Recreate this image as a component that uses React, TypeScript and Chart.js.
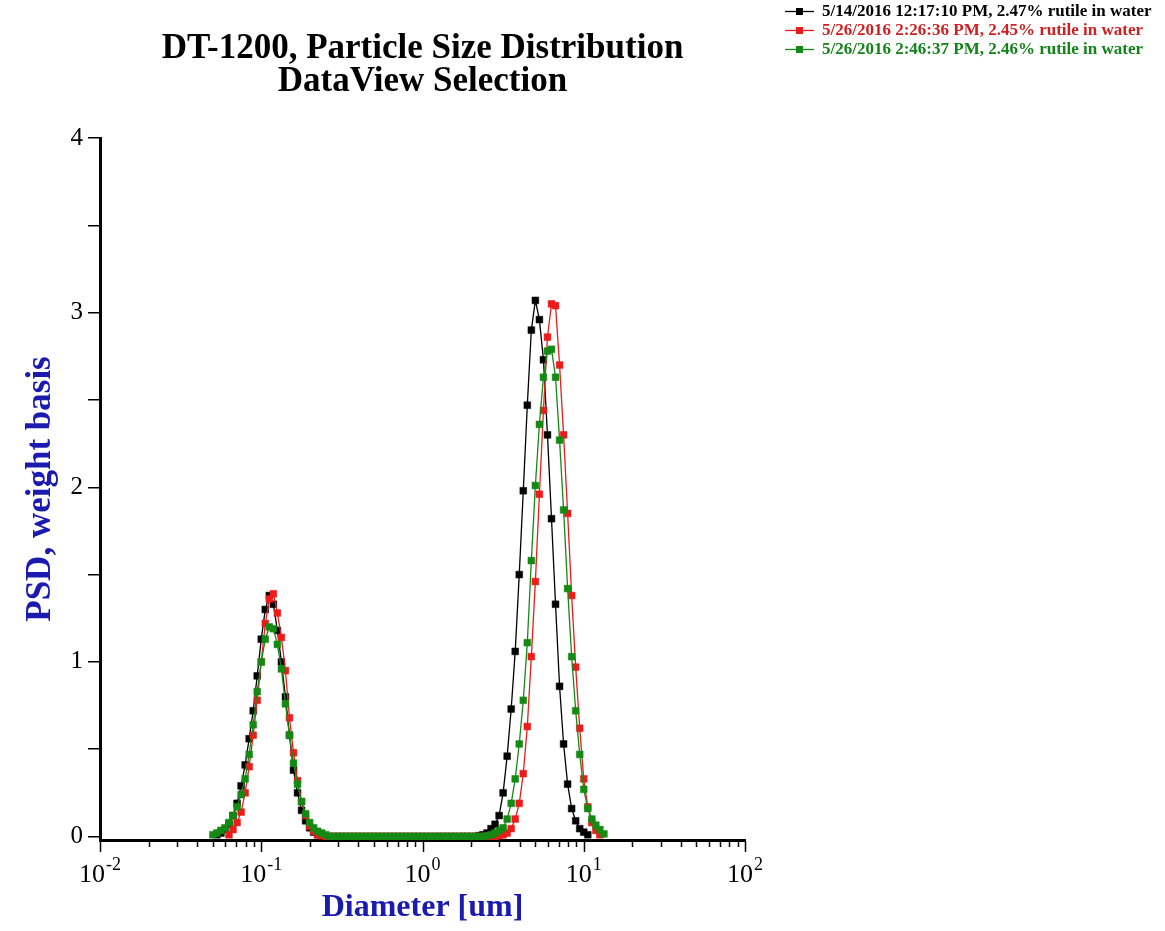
import React, { useEffect, useRef } from 'react';
import { Chart, registerables } from 'chart.js';

Chart.register(...registerables);

// Diameters (um) of the measurement grid
const diameters = [
  0.050119, 0.053088, 0.056234, 0.059566, 0.063096, 0.066834, 0.070795, 0.074989, 0.079433, 0.08414,
  0.089125, 0.094406, 0.1, 0.10593, 0.1122, 0.11885, 0.12589, 0.13335, 0.14125, 0.14962,
  0.15849, 0.16788, 0.17783, 0.18836, 0.19953, 0.21135, 0.22387, 0.23714, 0.25119, 0.26607,
  0.28184, 0.29854, 0.31623, 0.33497, 0.35481, 0.37584, 0.39811, 0.4217, 0.44668, 0.47315,
  0.50119, 0.53088, 0.56234, 0.59566, 0.63096, 0.66834, 0.70795, 0.74989, 0.79433, 0.8414,
  0.89125, 0.94406, 1.0, 1.0593, 1.122, 1.1885, 1.2589, 1.3335, 1.4125, 1.4962,
  1.5849, 1.6788, 1.7783, 1.8836, 1.9953, 2.1135, 2.2387, 2.3714, 2.5119, 2.6607,
  2.8184, 2.9854, 3.1623, 3.3497, 3.5481, 3.7584, 3.9811, 4.217, 4.4668, 4.7315,
  5.0119, 5.3088, 5.6234, 5.9566, 6.3096, 6.6834, 7.0795, 7.4989, 7.9433, 8.414,
  8.9125, 9.4406, 10.0, 10.593, 11.22, 11.885, 12.589, 13.335, 14.125,
];

// 99 values each, aligned with diameters (null = not measured/drawn)
const psdBlack = [
  null, 0.01, 0.02, 0.04, 0.07, 0.12, 0.19, 0.29, 0.41, 0.56,
  0.72, 0.92, 1.13, 1.3, 1.38, 1.33, 1.18, 1.0, 0.8, 0.58,
  0.38, 0.25, 0.15, 0.09, 0.05, 0.025, 0.01, 0.005,
  0, 0, 0, 0, 0, 0, 0, 0, 0, 0,
  0, 0, 0, 0, 0, 0, 0, 0, 0, 0,
  0, 0, 0, 0, 0, 0, 0, 0, 0, 0,
  0, 0, 0, 0, 0, 0, 0, 0,
  0.005, 0.01, 0.02, 0.045, 0.07, 0.12, 0.25, 0.46, 0.73, 1.06,
  1.5, 1.98, 2.47, 2.9, 3.07, 2.96, 2.73, 2.3, 1.82, 1.33,
  0.86, 0.53, 0.3, 0.16, 0.09, 0.045, 0.025, 0.01,
  null, null, null, null, null,
];

const psdRed = [
  null, null, null, null,
  0.01, 0.04, 0.08, 0.14, 0.25, 0.4, 0.58, 0.78, 1.0, 1.22,
  1.36, 1.39, 1.28, 1.14, 0.95, 0.68, 0.48, 0.32, 0.2, 0.12,
  0.06, 0.03, 0.01, 0.005,
  0, 0, 0, 0, 0, 0, 0, 0, 0, 0,
  0, 0, 0, 0, 0, 0, 0, 0, 0, 0,
  0, 0, 0, 0, 0, 0, 0, 0, 0, 0,
  0, 0, 0, 0, 0, 0, 0, 0, 0, 0,
  0, 0, 0,
  0.005, 0.01, 0.02, 0.045, 0.1, 0.19, 0.36, 0.63, 1.03, 1.46,
  1.96, 2.44, 2.86, 3.05, 3.04, 2.7, 2.3, 1.85, 1.38, 0.97,
  0.62, 0.33, 0.17, 0.08, 0.035, 0.01,
  null, null,
];

const psdGreen = [
  0.01, 0.02, 0.035, 0.05, 0.08, 0.12, 0.17, 0.24, 0.33, 0.47,
  0.64, 0.83, 1.0, 1.13, 1.2, 1.19, 1.1, 0.96, 0.76, 0.58,
  0.42, 0.3, 0.2, 0.13, 0.08, 0.05, 0.03, 0.02, 0.01,
  0, 0, 0, 0, 0, 0, 0, 0, 0, 0,
  0, 0, 0, 0, 0, 0, 0, 0, 0, 0,
  0, 0, 0, 0, 0, 0, 0, 0, 0, 0,
  0, 0, 0, 0, 0, 0, 0, 0, 0,
  0.005, 0.01, 0.02, 0.034, 0.05, 0.1, 0.19, 0.33, 0.53, 0.78,
  1.11, 1.58, 2.01, 2.36, 2.63, 2.78, 2.79, 2.63, 2.27, 1.87,
  1.42, 1.03, 0.72, 0.47, 0.27, 0.16, 0.1, 0.065, 0.04, 0.015,
  null,
];

const seriesLabels = [
  '5/14/2016 12:17:10 PM, 2.47% rutile in water',
  '5/26/2016 2:26:36 PM, 2.45% rutile in water',
  '5/26/2016 2:46:37 PM, 2.46% rutile in water',
];
const seriesColors = ['#000000', '#ec1c1c', '#148a14'];
const legendTextColors = ['#000000', '#d01f1f', '#12841a'];

const chartTitle = ['DT-1200, Particle Size Distribution', 'DataView Selection'];
const xAxisTitle = 'Diameter [um]';
const yAxisTitle = 'PSD, weight basis';
const yTickValues = [0, 0.5, 1, 1.5, 2, 2.5, 3, 3.5, 4];
const xDecades = [0.01, 0.1, 1, 10, 100];
const xDecadeExponents = ['-2', '-1', '0', '1', '2'];
const xMinorMultipliers = [2, 3, 4, 5, 6, 7, 8, 9];

const SERIF = '"Liberation Serif", "Times New Roman", serif';
const AXIS_BLUE = '#1b1bb0';

function toPoints(values: (number | null)[]) {
  const pts: { x: number; y: number }[] = [];
  values.forEach((v, i) => {
    if (v !== null && i < diameters.length) pts.push({ x: diameters[i], y: v });
  });
  return pts;
}

const decorPlugin = {
  id: 'decor',
  afterDraw(chart: any) {
    const ctx = chart.ctx as CanvasRenderingContext2D;
    const xs = chart.scales.x;
    const area = chart.chartArea;
    ctx.save();
    // x tick marks
    ctx.strokeStyle = '#000';
    ctx.lineWidth = 1.5;
    for (const t of xs.ticks) {
      const px = Math.round(xs.getPixelForValue(t.value)) + 0.5;
      const len = t.major ? 11 : 6;
      ctx.beginPath();
      ctx.moveTo(px, area.bottom + 1);
      ctx.lineTo(px, area.bottom + 1 + len);
      ctx.stroke();
    }
    // x decade labels with superscript exponents
    ctx.fillStyle = '#000';
    ctx.textBaseline = 'alphabetic';
    ctx.textAlign = 'left';
    xDecades.forEach((v, i) => {
      const px = xs.getPixelForValue(v);
      ctx.font = `26px ${SERIF}`;
      const wb = ctx.measureText('10').width;
      ctx.font = `18px ${SERIF}`;
      const we = ctx.measureText(xDecadeExponents[i]).width;
      const start = px - (wb + 1 + we) / 2;
      const base = area.bottom + 42;
      ctx.font = `26px ${SERIF}`;
      ctx.fillText('10', start, base);
      ctx.font = `18px ${SERIF}`;
      ctx.fillText(xDecadeExponents[i], start + wb + 1, base - 12);
    });
    // legend
    chart.data.datasets.forEach((ds: any, i: number) => {
      const y = 11 + 19 * i;
      ctx.strokeStyle = ds.borderColor;
      ctx.lineWidth = 1.3;
      ctx.beginPath();
      ctx.moveTo(785, y + 0.5);
      ctx.lineTo(814, y + 0.5);
      ctx.stroke();
      ctx.fillStyle = ds.borderColor;
      ctx.fillRect(796, y - 3, 7, 7);
      ctx.fillStyle = legendTextColors[i];
      ctx.font = `bold 17px ${SERIF}`;
      ctx.textBaseline = 'middle';
      ctx.fillText(ds.label, 822, y + 1);
    });
    ctx.restore();
  },
};

export default function App() {
  const ref = useRef<HTMLCanvasElement | null>(null);

  useEffect(() => {
    if (!ref.current) return;
    const series = [psdBlack, psdRed, psdGreen];
    const allXTicks: { value: number; major: boolean }[] = [];
    xDecades.forEach((d, i) => {
      allXTicks.push({ value: d, major: true });
      if (i < xDecades.length - 1) {
        xMinorMultipliers.forEach((m) => allXTicks.push({ value: d * m, major: false }));
      }
    });

    const chart = new Chart(ref.current, {
      type: 'line',
      data: {
        datasets: series.map((vals, i) => ({
          label: seriesLabels[i],
          data: toPoints(vals),
          borderColor: seriesColors[i],
          backgroundColor: seriesColors[i],
          borderWidth: 1.3,
          pointStyle: 'rect',
          pointRadius: 4.8,
          pointBackgroundColor: seriesColors[i],
          pointBorderColor: seriesColors[i],
          pointBorderWidth: 0.5,
          tension: 0,
          order: 2 - i,
        })),
      },
      options: {
        animation: false,
        responsive: false,
        devicePixelRatio: 1,
        layout: { padding: { top: 0, left: 0, right: 420, bottom: 0 } },
        plugins: {
          legend: { display: false },
          tooltip: { enabled: false },
          title: {
            display: true,
            text: chartTitle,
            fullSize: false,
            color: '#000',
            font: { family: SERIF, size: 35, weight: 'bold', lineHeight: 0.95 },
            padding: { top: 32, bottom: 39.5 },
          },
        },
        scales: {
          x: {
            type: 'logarithmic',
            min: 0.01,
            max: 100,
            afterBuildTicks: (scale: any) => {
              scale.ticks = allXTicks.map((t) => ({ ...t }));
            },
            afterFit: (scale: any) => {
              scale.height = 91;
            },
            ticks: { display: false },
            grid: { display: false },
            border: { display: true, color: '#000', width: 3 },
            title: {
              display: true,
              text: xAxisTitle,
              color: AXIS_BLUE,
              font: { family: SERIF, size: 32, weight: 'bold' },
              padding: { top: 0, bottom: 4 },
            },
          },
          y: {
            type: 'linear',
            min: -0.02,
            max: 4,
            afterBuildTicks: (scale: any) => {
              scale.ticks = yTickValues.map((v) => ({ value: v }));
            },
            afterFit: (scale: any) => {
              scale.width = 100;
            },
            ticks: {
              color: '#000',
              padding: 5,
              font: { family: SERIF, size: 25 },
              callback: (v: any) => (Number.isInteger(v) ? String(v) : ''),
            },
            grid: {
              display: true,
              drawOnChartArea: false,
              drawTicks: true,
              tickLength: 12,
              color: '#000',
              lineWidth: 1.5,
            },
            border: { display: true, color: '#000', width: 3 },
            title: {
              display: true,
              text: yAxisTitle,
              color: AXIS_BLUE,
              font: { family: SERIF, size: 35, weight: 'bold' },
              padding: { top: 20, bottom: 0 },
            },
          },
        },
      },
      plugins: [decorPlugin],
    } as any);

    return () => chart.destroy();
  }, []);

  return (
    <div style={{ position: 'fixed', left: 0, top: 0, width: 1165, height: 931, background: '#fff' }}>
      <canvas ref={ref} width={1165} height={931} style={{ display: 'block', width: 1165, height: 931 }} />
    </div>
  );
}
